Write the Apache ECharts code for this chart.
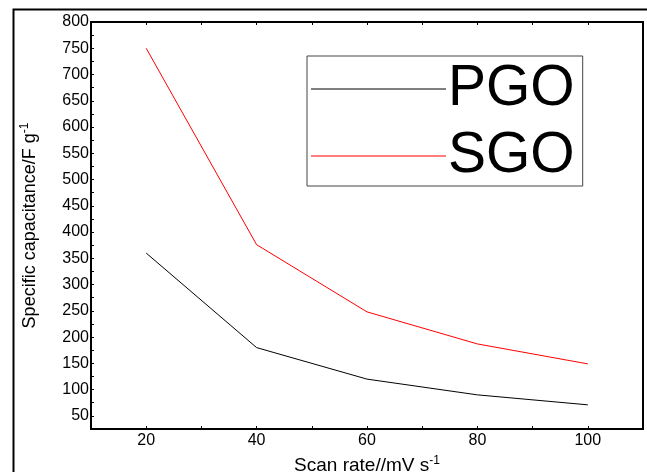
<!DOCTYPE html>
<html>
<head>
<meta charset="utf-8">
<script src="https://cdn.jsdelivr.net/npm/echarts@6/dist/echarts.min.js"></script>
<style>
  html, body { margin: 0; padding: 0; background: #fff; }
  #chart { width: 647px; height: 472px; }
</style>
</head>
<body>
<div id="chart"></div>
<script>
// 数据
var scanRates = [20, 40, 60, 80, 100];
var pgoValues = [360, 180, 120, 90, 71];
var sgoValues = [750, 376, 248, 187, 149];
var seriesNames = ['PGO', 'SGO'];

function pairs(xs, ys) {
  var out = [];
  for (var i = 0; i < xs.length; i++) out.push([xs[i], ys[i]]);
  return out;
}

var chart = echarts.init(document.getElementById('chart'));
var font = 'Liberation Sans, Arial, sans-serif';

var option = {
  animation: false,
  backgroundColor: '#fff',
  textStyle: { fontFamily: font },
  grid: {
    left: 91, top: 22, right: 4, bottom: 43,
    outerBoundsMode: 'none', containLabel: false,
    show: true, borderColor: '#000', borderWidth: 2, backgroundColor: 'transparent'
  },
  graphic: [{
    type: 'rect', left: 11, top: 7, z: -1,
    shape: { width: 700, height: 500 },
    style: { fill: 'none', stroke: '#000', lineWidth: 2 }
  }],
  legend: {
    orient: 'vertical',
    left: 307, top: 56,
    data: [{ name: seriesNames[0], icon: 'rect' }, { name: seriesNames[1], icon: 'rect' }],
    itemWidth: 135, itemHeight: 1, itemGap: 7,
    padding: [3, 8, 0, 4],
    borderColor: '#444', borderWidth: 1,
    textStyle: { fontSize: 57, lineHeight: 60, color: '#000', fontFamily: font, padding: [0, 0, 0, -3] }
  },
  xAxis: [{
    type: 'value', min: 10, max: 110, interval: 10,
    name: 'Scan rate//mV s{sup|-1}',
    nameLocation: 'middle', nameGap: 26,
    nameTextStyle: {
      fontSize: 19, color: '#000', fontFamily: font,
      rich: { sup: { fontSize: 12, verticalAlign: 'top', padding: [0, 0, 10, 0], color: '#000' } }
    },
    axisLine: { show: true, onZero: false, lineStyle: { color: '#000', width: 2 } },
    axisTick: { show: true, inside: true, length: 3, lineStyle: { color: '#000' } },
    axisLabel: {
      fontSize: 16, color: '#000', margin: 4,
      formatter: function (v) { return v % 20 === 0 ? String(v) : ''; }
    },
    splitLine: { show: false }
  }, {
    type: 'value', position: 'top', min: 10, max: 110, interval: 10,
    axisLine: { show: true, lineStyle: { color: '#000', width: 2 } },
    axisTick: { show: true, inside: true, length: 3, lineStyle: { color: '#000' } },
    axisLabel: { show: false },
    splitLine: { show: false }
  }],
  yAxis: {
    type: 'value', min: 25, max: 800, interval: 25,
    name: 'Specific capacitance/F g{sup|-1}',
    nameLocation: 'middle', nameGap: 50, nameRotate: 90,
    nameTextStyle: {
      fontSize: 18, color: '#000', fontFamily: font,
      rich: { sup: { fontSize: 12, verticalAlign: 'top', padding: [0, 0, 10, 0], color: '#000' } }
    },
    axisLine: { show: true, lineStyle: { color: '#000', width: 2 } },
    axisTick: { show: true, inside: true, length: 3, lineStyle: { color: '#000' } },
    axisLabel: {
      fontSize: 16, color: '#000', margin: 2,
      formatter: function (v) { return v % 50 === 0 ? String(v) : ''; }
    },
    splitLine: { show: false }
  },
  series: [{
    name: seriesNames[0], type: 'line', symbol: 'none',
    data: pairs(scanRates, pgoValues),
    lineStyle: { color: '#000', width: 1 }, itemStyle: { color: '#000' }
  }, {
    name: seriesNames[1], type: 'line', symbol: 'none',
    data: pairs(scanRates, sgoValues),
    lineStyle: { color: '#ff0000', width: 1 }, itemStyle: { color: '#ff0000' }
  }]
};

chart.setOption(option);
</script>
</body>
</html>
